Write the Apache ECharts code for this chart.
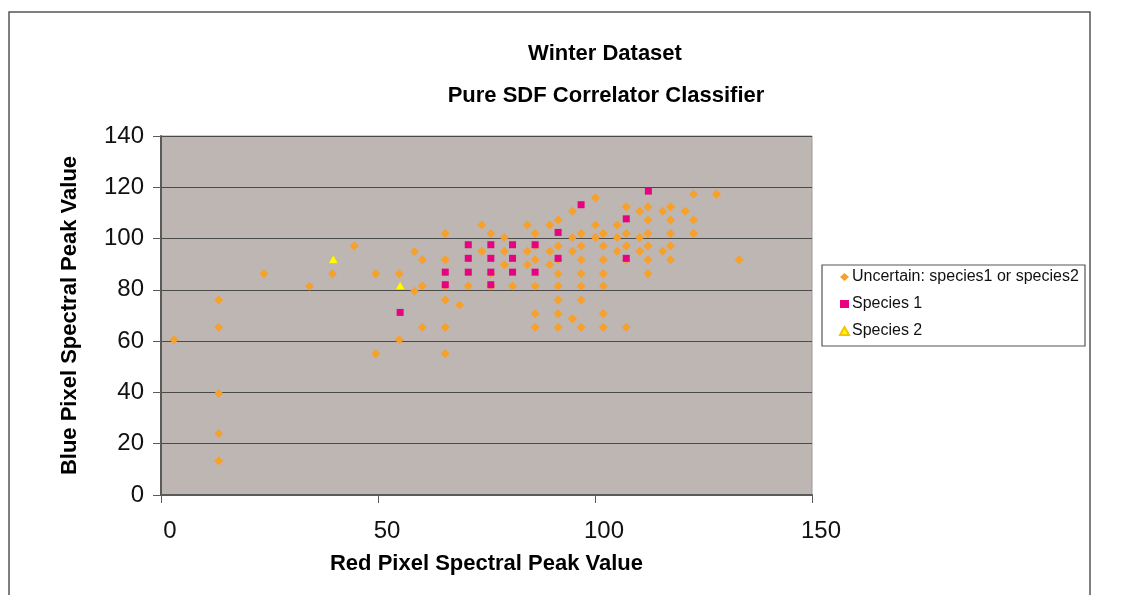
<!DOCTYPE html>
<html>
<head>
<meta charset="utf-8">
<script src="https://cdn.jsdelivr.net/npm/echarts@6/dist/echarts.min.js"></script>
<style>
  html, body { margin: 0; padding: 0; background: #fff; }
  #chart { width: 1135px; height: 595px; }
</style>
</head>
<body>
<div id="chart"></div>
<script>
// values: [red peak, blue peak]
const uncertain = [
  [3, 60.5],
  [13.3, 76], [13.3, 65.4], [13.3, 39.6], [13.3, 24], [13.3, 13.4],
  [23.7, 86.3], [34.2, 81.4], [39.5, 86.3], [44.5, 97.1],
  [49.5, 86.3], [49.5, 55.1],
  [54.9, 86.3], [54.9, 60.5],
  [58.4, 95], [58.4, 79.5],
  [60.2, 91.7], [60.2, 81.5], [60.2, 65.4],
  [65.5, 102], [65.5, 91.7], [65.5, 81.5], [65.5, 76], [65.5, 65.4], [65.5, 55.1],
  [68.8, 74.1], [70.8, 81.5],
  [73.9, 105.3], [73.9, 95.1],
  [76, 102], [76, 86.3], [76, 81.5],
  [79.1, 100.4], [79.1, 95.1], [79.1, 89.8],
  [81, 81.5],
  [84.4, 105.3], [84.4, 95.1], [84.4, 89.8],
  [86.2, 102], [86.2, 97.1], [86.2, 91.7], [86.2, 81.5], [86.2, 70.7], [86.2, 65.4],
  [89.6, 105.3], [89.6, 95.1], [89.6, 89.8],
  [91.5, 107.2], [91.5, 97.1], [91.5, 91.7], [91.5, 86.3], [91.5, 81.5], [91.5, 76], [91.5, 70.7], [91.5, 65.4],
  [94.8, 110.7], [94.8, 100.4], [94.8, 95.1], [94.8, 68.7],
  [96.8, 102], [96.8, 97.1], [96.8, 91.7], [96.8, 86.3], [96.8, 81.5], [96.8, 76], [96.8, 65.4],
  [100.1, 115.9], [100.1, 105.3], [100.1, 100.4],
  [101.9, 102], [101.9, 97.1], [101.9, 91.7], [101.9, 86.3], [101.9, 81.5], [101.9, 70.7], [101.9, 65.4],
  [105.1, 105.3], [105.1, 100.4], [105.1, 95.1],
  [107.2, 112.4], [107.2, 102], [107.2, 97.1], [107.2, 91.7], [107.2, 65.4],
  [110.3, 110.7], [110.3, 100.4], [110.3, 95.1],
  [112.2, 112.4], [112.2, 107.2], [112.2, 102], [112.2, 97.1], [112.2, 91.7], [112.2, 86.3],
  [115.6, 110.7], [115.6, 95.1],
  [117.4, 112.4], [117.4, 107.2], [117.4, 102], [117.4, 97.1], [117.4, 91.7],
  [120.8, 110.7],
  [122.7, 117.3], [122.7, 107.2], [122.7, 102],
  [128, 117.3],
  [133.2, 91.7]
]

const species1 = [
  [55.1, 71.2],
  [65.5, 86.9], [65.5, 82],
  [70.8, 97.6], [70.8, 92.3], [70.8, 86.9],
  [76, 97.6], [76, 92.3], [76, 86.9], [76, 82],
  [81, 97.6], [81, 92.3], [81, 86.9],
  [86.2, 97.6], [86.2, 86.9],
  [91.5, 102.4], [91.5, 92.3],
  [96.8, 113.2],
  [107.2, 107.7], [107.2, 92.3],
  [112.3, 118.5]
]

const species2 = [
  [39.7, 91.9], [55.1, 81.7]
]

const seriesNames = ['Uncertain: species1 or species2', 'Species 1', 'Species 2']
const titleLines = ['Winter Dataset', 'Pure SDF Correlator Classifier']

const font = '"Liberation Sans", Arial, sans-serif'
const chart = echarts.init(document.getElementById('chart'))

chart.setOption({
  animation: false,
  textStyle: { fontFamily: font },
  title: [
    {
      text: titleLines[0],
      left: 600, top: 38, textAlign: 'center',
      textStyle: { fontSize: 22, fontWeight: 'bold', color: '#000', fontFamily: font }
    },
    {
      text: titleLines[1],
      left: 601, top: 80, textAlign: 'center',
      textStyle: { fontSize: 22, fontWeight: 'bold', color: '#000', fontFamily: font }
    }
  ],
  graphic: [
    {
      type: 'rect', silent: true, z: -1,
      shape: { x: 9, y: 12, width: 1081, height: 620 },
      style: { fill: 'none', stroke: '#555', lineWidth: 1.5 }
    },
    {
      type: 'rect', silent: true,
      shape: { x: 822, y: 265, width: 263, height: 81 },
      style: { fill: '#fff', stroke: '#555', lineWidth: 1.2 }
    }
  ],
  legend: {
    orient: 'vertical',
    left: 834, top: 264,
    itemWidth: 9, itemHeight: 8,
    itemGap: 11,
    z: 10,
    textStyle: { fontSize: 16, color: '#111', fontFamily: font, padding: [0, 0, 0, -2] },
    data: seriesNames
  },
  grid: {
    left: 161, right: 323, top: 136, bottom: 100,
    show: true,
    backgroundColor: '#bdb6b3',
    borderColor: '#9a9a9a',
    borderWidth: 1
  },
  xAxis: {
    type: 'value',
    min: 0, max: 150, interval: 50,
    name: 'Red Pixel Spectral Peak Value',
    nameLocation: 'middle',
    nameGap: 58,
    nameTextStyle: { fontSize: 22, fontWeight: 'bold', color: '#000', fontFamily: font },
    axisLine: { show: true, lineStyle: { color: '#5a5a5a', width: 2 } },
    axisTick: { show: true, length: 8, lineStyle: { color: '#5a5a5a' } },
    axisLabel: { fontSize: 24, color: '#111', margin: 24, padding: [0, 0, 0, 18] },
    splitLine: { show: false }
  },
  yAxis: {
    type: 'value',
    min: 0, max: 140, interval: 20,
    name: 'Blue Pixel Spectral Peak Value',
    nameLocation: 'middle',
    nameGap: 80,
    nameTextStyle: { fontSize: 22, fontWeight: 'bold', color: '#000', fontFamily: font },
    axisLine: { show: true, lineStyle: { color: '#5a5a5a', width: 2 } },
    axisTick: { show: true, length: 8, lineStyle: { color: '#5a5a5a' } },
    axisLabel: { fontSize: 24, color: '#111', margin: 17 },
    splitLine: { show: true, lineStyle: { color: '#4a4a4a', width: 1.2 } }
  },
  series: [
    {
      name: seriesNames[0],
      type: 'scatter',
      symbol: 'diamond',
      symbolSize: [9, 9],
      itemStyle: { color: '#f7a02a', opacity: 1 },
      data: uncertain
    },
    {
      name: seriesNames[1],
      type: 'scatter',
      symbol: 'rect',
      symbolSize: [7, 7],
      itemStyle: { color: '#e5037f', opacity: 1 },
      data: species1
    },
    {
      name: seriesNames[2],
      type: 'scatter',
      symbol: 'triangle',
      symbolSize: [9, 8],
      itemStyle: { color: '#ffff00', borderColor: '#f5c400', borderWidth: 0.5, opacity: 1 },
      data: species2
    }
  ]
})
</script>
</body>
</html>
